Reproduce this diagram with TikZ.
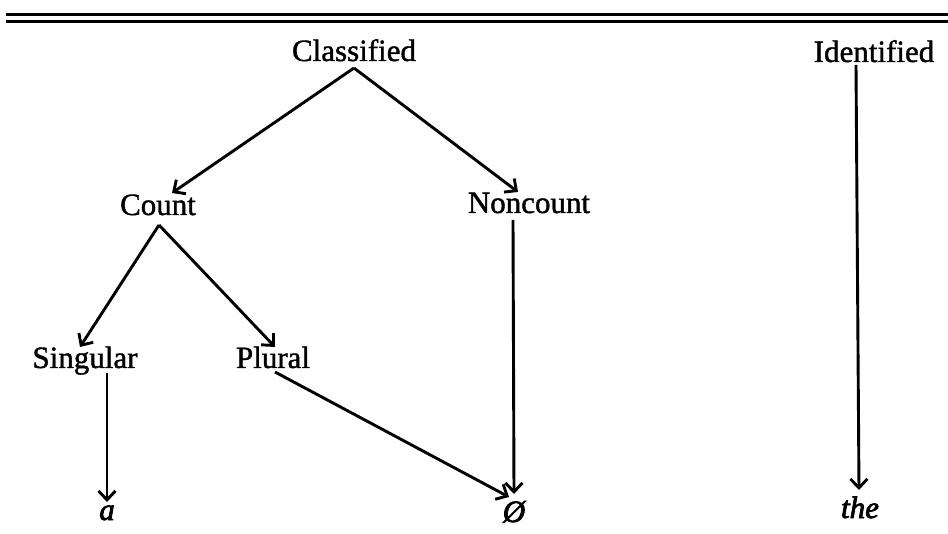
\documentclass[tikz,border=0pt]{standalone}
\usepackage{fontspec}
\setmainfont{Liberation Serif}
\newfontfamily\heavyserif{Liberation Serif}[FakeBold=1.3]
\newfontfamily\heavyital{Liberation Serif}[FakeBold=2.5]
\usetikzlibrary{arrows.meta}
\begin{document}
\begin{tikzpicture}[x=1pt,y=-1pt,
  lbl/.style={anchor=base,inner sep=0pt,outer sep=0pt,text height=22pt,text depth=8pt,font=\heavyserif\fontsize{31}{36}\selectfont},
  ilbl/.style={lbl,font=\heavyital\fontsize{31}{36}\selectfont\itshape},
  conn/.style={line width=2.9pt,-{Straight Barb[length=9pt,width=17pt,line width=2.9pt]}},
  rule/.style={line width=3pt}]
\useasboundingbox (0,0) rectangle (948,534);
\coordinate (r1a) at (6,15); \coordinate (r1b) at (948,15);
\coordinate (r2a) at (6,22); \coordinate (r2b) at (948,22);
\draw[rule] (r1a) -- (r1b);
\draw[rule] (r2a) -- (r2b);
\node[lbl] (classified) at (354,61) {Classified};
\node[lbl] (identified) at (874,62) {Identified};
\node[lbl] (count) at (158,215) {Count};
\node[lbl] (noncount) at (529,213) {Noncount};
\node[lbl] (singular) at (85,368) {Singular};
\node[lbl] (plural) at (273,368) {Plural};
\node[ilbl] (a) at (107,520) {a};
\node[ilbl] (zero) at (514,522) {Ø};
\node[ilbl] (the) at (860,518) {the};
\draw[conn] ([yshift=1pt]classified.south) -- ([xshift=14pt]count.north);
\draw[conn] ([yshift=1pt]classified.south) -- ([xshift=-11pt,yshift=-1pt]noncount.north);
\draw[conn] ([xshift=1pt,yshift=-2pt]count.south) -- ([xshift=-5pt,yshift=-1pt]singular.north);
\draw[conn] ([xshift=1pt,yshift=-2pt]count.south) -- ([xshift=2pt,yshift=-1pt]plural.north);
\draw[conn] ([xshift=22pt,yshift=3pt]singular.south) -- ([yshift=-4pt]a.north);
\draw[conn] ([xshift=2pt,yshift=4pt]plural.south) -- ([xshift=-5pt,yshift=3pt]zero.north);
\draw[conn] ([xshift=-16pt,yshift=1pt]noncount.south) -- ([yshift=6pt]zero.north);
\draw[conn] ([xshift=-18pt,yshift=5pt]identified.south) -- ([xshift=-1pt,yshift=6pt]the.north);
\end{tikzpicture}
\end{document}
